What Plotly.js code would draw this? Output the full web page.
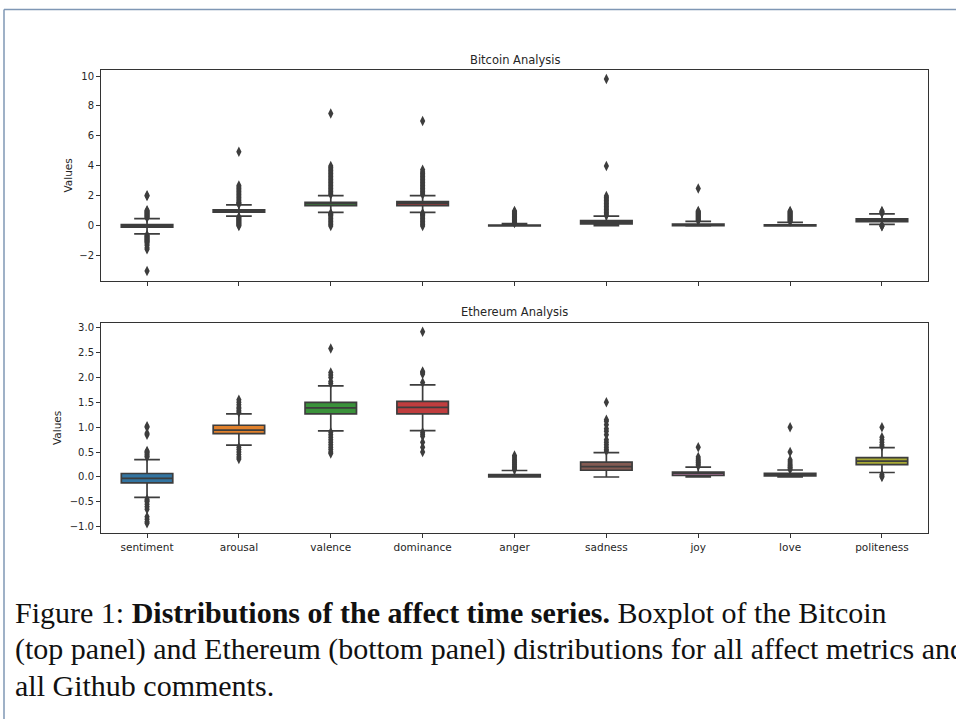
<!DOCTYPE html>
<html>
<head>
<meta charset="utf-8">
<script src="https://cdn.plot.ly/plotly-3.0.1.min.js"></script>
<style>
html,body{margin:0;padding:0;background:#fff;}
#chart{width:956px;height:719px;}
</style>
</head>
<body>
<div id="chart"></div>
<script>
// ---------- DATA ----------
const categories = ["sentiment","arousal","valence","dominance","anger","sadness","joy","love","politeness"];
const boxColors = ["#3274a1","#e1812c","#3a923a","#c03d3e","#9372b2","#845b53","#d684bd","#7f7f7f","#a9aa35"];

// Bitcoin box statistics
const btcQ1     = [-0.08, 0.92, 1.35, 1.36, 0.00, 0.14, 0.02, 0.01, 0.28];
const btcMedian = [-0.01, 1.00, 1.50, 1.50, 0.02, 0.25, 0.06, 0.04, 0.38];
const btcQ3     = [ 0.09, 1.08, 1.58, 1.62, 0.06, 0.36, 0.13, 0.08, 0.47];
const btcLow    = [-0.53, 0.65, 0.91, 0.91, 0.00, 0.02, 0.00, 0.00, 0.11];
const btcHigh   = [ 0.49, 1.40, 2.02, 2.02, 0.15, 0.65, 0.30, 0.24, 0.80];

// Bitcoin outliers
const btcOutSentiment = [0.55,0.6,0.65,0.7,0.75,0.8,0.85,0.9,0.95,1.0,1.05,2.0,2.05,-0.6,-0.65,-0.7,-0.75,-0.8,-0.85,-0.9,-0.95,-1.0,-1.05,-1.1,-1.2,-1.3,-1.45,-1.55,-3.0];
const btcOutArousal   = [1.45,1.5,1.55,1.6,1.7,1.8,1.9,2.0,2.1,2.2,2.3,2.4,2.5,2.6,2.7,4.95,0.6,0.55,0.5,0.45,0.4,0.35,0.3,0.25,0.2,0.15,0.1,0.05,0.0];
const btcOutValence   = [2.1,2.2,2.3,2.4,2.5,2.6,2.7,2.8,2.9,3.0,3.1,3.2,3.3,3.4,3.5,3.6,3.7,3.8,3.9,4.0,7.5,0.85,0.8,0.75,0.7,0.6,0.5,0.4,0.3,0.2,0.1,0.0];
const btcOutDominance = [2.1,2.2,2.3,2.4,2.5,2.6,2.7,2.8,2.9,3.0,3.1,3.2,3.3,3.4,3.5,3.6,3.75,7.0,0.85,0.8,0.75,0.7,0.6,0.5,0.4,0.3,0.2,0.1,0.0];
const btcOutAnger     = [0.2,0.25,0.3,0.35,0.4,0.45,0.5,0.55,0.6,0.65,0.7,0.75,0.8,0.85,0.9,0.95,1.0];
const btcOutSadness   = [0.7,0.8,0.9,1.0,1.1,1.2,1.3,1.4,1.5,1.6,1.7,1.8,1.9,2.0,4.0,9.8];
const btcOutJoy       = [0.35,0.4,0.45,0.5,0.55,0.6,0.65,0.7,0.75,0.8,0.85,0.9,0.95,1.0,2.5];
const btcOutLove      = [0.3,0.35,0.4,0.45,0.5,0.55,0.6,0.65,0.7,0.75,0.8,0.85,0.9,0.95,1.0];
const btcOutPoliteness= [0.85,0.9,0.95,1.0,0.05,0.0,-0.02];

// Ethereum box statistics
const ethQ1     = [-0.12, 0.87, 1.27, 1.27, 0.00, 0.135, 0.03, 0.02, 0.25];
const ethMedian = [-0.03, 0.94, 1.39, 1.40, 0.02, 0.21, 0.07, 0.05, 0.32];
const ethQ3     = [ 0.07, 1.04, 1.50, 1.52, 0.05, 0.30, 0.10, 0.074, 0.39];
const ethLow    = [-0.41, 0.64, 0.925, 0.93, 0.00, 0.00, 0.00, 0.00, 0.09];
const ethHigh   = [ 0.35, 1.27, 1.83, 1.85, 0.13, 0.49, 0.20, 0.14, 0.59];

// Ethereum outliers
const ethOutSentiment = [0.4,0.42,0.45,0.48,0.5,0.52,0.85,0.88,1.0,1.02,-0.45,-0.48,-0.5,-0.55,-0.6,-0.65,-0.8,-0.85,-0.9,-0.93];
const ethOutArousal   = [1.3,1.33,1.37,1.4,1.45,1.5,1.55,0.6,0.55,0.5,0.45,0.4,0.36];
const ethOutValence   = [1.88,1.92,2.0,2.05,2.1,2.58,0.9,0.85,0.8,0.75,0.7,0.65,0.6,0.55,0.5,0.47];
const ethOutDominance = [1.9,2.07,2.1,2.12,2.92,0.9,0.86,0.82,0.7,0.6,0.5];
const ethOutAnger     = [0.15,0.18,0.2,0.22,0.25,0.28,0.3,0.33,0.36,0.4,0.43];
const ethOutSadness   = [0.52,0.55,0.6,0.65,0.7,0.75,0.85,0.92,0.97,1.05,1.12,1.15,1.5];
const ethOutJoy       = [0.22,0.25,0.28,0.3,0.33,0.36,0.4,0.6];
const ethOutLove      = [0.15,0.18,0.2,0.23,0.26,0.3,0.34,0.5,1.0];
const ethOutPoliteness= [0.62,0.65,0.7,0.75,0.8,1.0,0.05,0.02,0.0];

const panelTitles = ["Bitcoin Analysis","Ethereum Analysis"];
const yTitle = "Values";
const captionLines = [
  "Figure 1: <b>Distributions of the affect time series.</b> Boxplot of the Bitcoin",
  "(top panel) and Ethereum (bottom panel) distributions for all affect metrics and",
  "all Github comments."
];

// ---------- BUILD ----------
const lineCol = "#3d3d3d";
const btcOut = [btcOutSentiment,btcOutArousal,btcOutValence,btcOutDominance,btcOutAnger,btcOutSadness,btcOutJoy,btcOutLove,btcOutPoliteness];
const ethOut = [ethOutSentiment,ethOutArousal,ethOutValence,ethOutDominance,ethOutAnger,ethOutSadness,ethOutJoy,ethOutLove,ethOutPoliteness];

const traces = [];
function addPanel(q1, med, q3, lo, hi, outs, xa, ya) {
  categories.forEach((c, i) => {
    traces.push({
      type: "box", x: [c], q1: [q1[i]], median: [med[i]], q3: [q3[i]],
      lowerfence: [lo[i]], upperfence: [hi[i]],
      xaxis: xa, yaxis: ya, fillcolor: boxColors[i],
      line: {color: lineCol, width: 1.7}, whiskerwidth: 0.5,
      showlegend: false, hoverinfo: "skip"
    });
  });
  const ox = [], oy = [];
  categories.forEach((c, i) => { outs[i].forEach(v => { ox.push(c); oy.push(v); }); });
  traces.push({
    type: "scatter", mode: "markers", x: ox, y: oy, xaxis: xa, yaxis: ya,
    marker: {symbol: "diamond-tall", size: 7.5, color: lineCol},
    showlegend: false, hoverinfo: "skip"
  });
}
addPanel(btcQ1, btcMedian, btcQ3, btcLow, btcHigh, btcOut, "x", "y");
addPanel(ethQ1, ethMedian, ethQ3, ethLow, ethHigh, ethOut, "x2", "y2");

// geometry helpers (pixel -> paper)
const L = 101, R = 28, T = 70, B = 186, W = 956, H = 719;
const pw = W - L - R, ph = H - T - B;
const px = x => (x - L) / pw;
const py = y => (H - B - y) / ph;

const axisCommon = {
  showgrid: false, zeroline: false, showline: true, linecolor: "#333", linewidth: 1,
  mirror: true, ticks: "outside", ticklen: 4, tickcolor: "#333", tickwidth: 1,
  tickfont: {family: "DejaVu Sans", size: 10, color: "#262626"}
};

const tickFontAnn = {family: "DejaVu Sans", size: 10.5, color: "#262626"};
const annotations = [
  {text: panelTitles[0], xref: "paper", yref: "paper", x: 0.5, y: py(60), xanchor: "center", yanchor: "middle", showarrow: false, font: {family: "DejaVu Sans", size: 11.5, color: "#262626"}},
  {text: panelTitles[1], xref: "paper", yref: "paper", x: 0.5, y: py(312), xanchor: "center", yanchor: "middle", showarrow: false, font: {family: "DejaVu Sans", size: 11.5, color: "#262626"}},
  {text: yTitle, xref: "paper", yref: "paper", x: px(68), y: py(175.5), textangle: -90, xanchor: "center", yanchor: "middle", showarrow: false, font: tickFontAnn},
  {text: yTitle, xref: "paper", yref: "paper", x: px(57), y: py(428), textangle: -90, xanchor: "center", yanchor: "middle", showarrow: false, font: tickFontAnn}
];
const capY = [612, 649, 685];
captionLines.forEach((t, i) => {
  annotations.push({text: t, xref: "paper", yref: "paper", x: px(13), y: py(capY[i]), xanchor: "left", yanchor: "middle", showarrow: false, font: {family: "Liberation Serif", size: 30, color: "#111"}});
});

const layout = {
  width: W, height: H,
  margin: {l: L, r: R, t: T, b: B, pad: 0},
  paper_bgcolor: "#fff", plot_bgcolor: "#fff",
  boxmode: "overlay", boxgap: 0.2,
  showlegend: false,
  xaxis: Object.assign({}, axisCommon, {domain: [0, 1], anchor: "y", type: "category", categoryarray: categories, showticklabels: false, matches: "x2"}),
  yaxis: Object.assign({}, axisCommon, {domain: [py(281), 1], anchor: "x", range: [-3.67, 10.4], dtick: 2, tick0: 0}),
  xaxis2: Object.assign({}, axisCommon, {domain: [0, 1], anchor: "y2", type: "category", categoryarray: categories, tickfont: {family: "DejaVu Sans", size: 10.5, color: "#262626"}}),
  yaxis2: Object.assign({}, axisCommon, {domain: [0, py(323)], anchor: "x2", range: [-1.126, 3.095], dtick: 0.5, tick0: 0, tickformat: ".1f"}),
  annotations: annotations,
  shapes: [
    {type: "line", xref: "paper", yref: "paper", x0: px(4), x1: px(956), y0: py(9.5), y1: py(9.5), line: {color: "#7f97b5", width: 1.5}},
    {type: "line", xref: "paper", yref: "paper", x0: px(4), x1: px(4), y0: py(9.5), y1: py(719), line: {color: "#7f97b5", width: 1.5}}
  ]
};

Plotly.newPlot("chart", traces, layout, {staticPlot: true, displayModeBar: false});
</script>
</body>
</html>
